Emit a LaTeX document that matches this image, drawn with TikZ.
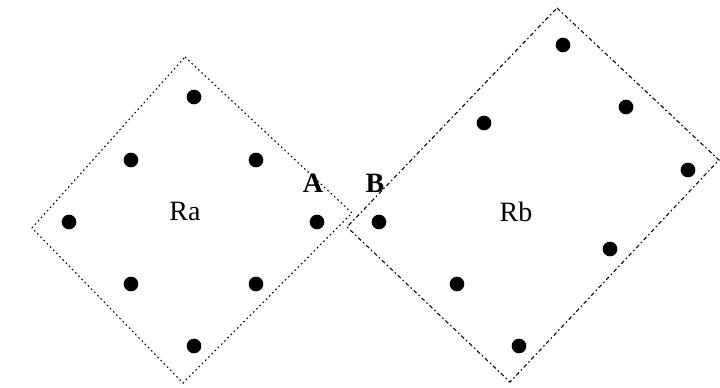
\documentclass[tikz,border=0pt]{standalone}
\usepackage{fontspec}
\setmainfont{Liberation Serif}
\begin{document}
\begin{tikzpicture}[x=0.75pt,y=-0.75pt,
  dotn/.style={circle,fill=black,inner sep=0pt,minimum size=11pt},
  edgea/.style={line width=0.8pt,dash pattern=on 1.2pt off 2.2pt},
  edgeb/.style={line width=0.8pt,dash pattern=on 3pt off 2pt on 1.2pt off 2pt},
  lbl/.style={font=\fontsize{21}{23}\selectfont,inner sep=0pt},
  blbl/.style={font=\fontsize{21}{23}\selectfont\bfseries,inner sep=0pt}]
\useasboundingbox (0,0) rectangle (720,387);
% Ra vertices
\coordinate (at) at (185,57);
\coordinate (ar) at (352,213);
\coordinate (ab) at (183,383);
\coordinate (al) at (32,228);
% Rb vertices
\coordinate (bt) at (557,8);
\coordinate (br) at (719,160);
\coordinate (bb) at (510,382);
\coordinate (bl) at (347,227);
\draw[edgea] (at) -- (ar) -- (ab) -- (al) -- cycle;
\draw[edgeb] (bt) -- (br) -- (bb) -- (bl) -- cycle;
% Ra dots
\node[dotn] (a1) at (194,97) {};
\node[dotn] (a2) at (131,160) {};
\node[dotn] (a3) at (256,160) {};
\node[dotn] (a4) at (69,222) {};
\node[dotn] (a5) at (317,222) {};
\node[dotn] (a6) at (131,284) {};
\node[dotn] (a7) at (256,284) {};
\node[dotn] (a8) at (194,346) {};
% Rb dots
\node[dotn] (b1) at (563,45) {};
\node[dotn] (b2) at (626,107) {};
\node[dotn] (b3) at (484,123) {};
\node[dotn] (b4) at (688,170) {};
\node[dotn] (b5) at (379,222) {};
\node[dotn] (b6) at (610,249) {};
\node[dotn] (b7) at (457,284) {};
\node[dotn] (b8) at (519,346) {};
% labels
\node[lbl] (ra) at (185,211) {Ra};
\node[lbl] (rb) at (516,212) {Rb};
\node[blbl] (la) at (313,183) {A};
\node[blbl] (lb) at (375,183) {B};
\end{tikzpicture}
\end{document}
